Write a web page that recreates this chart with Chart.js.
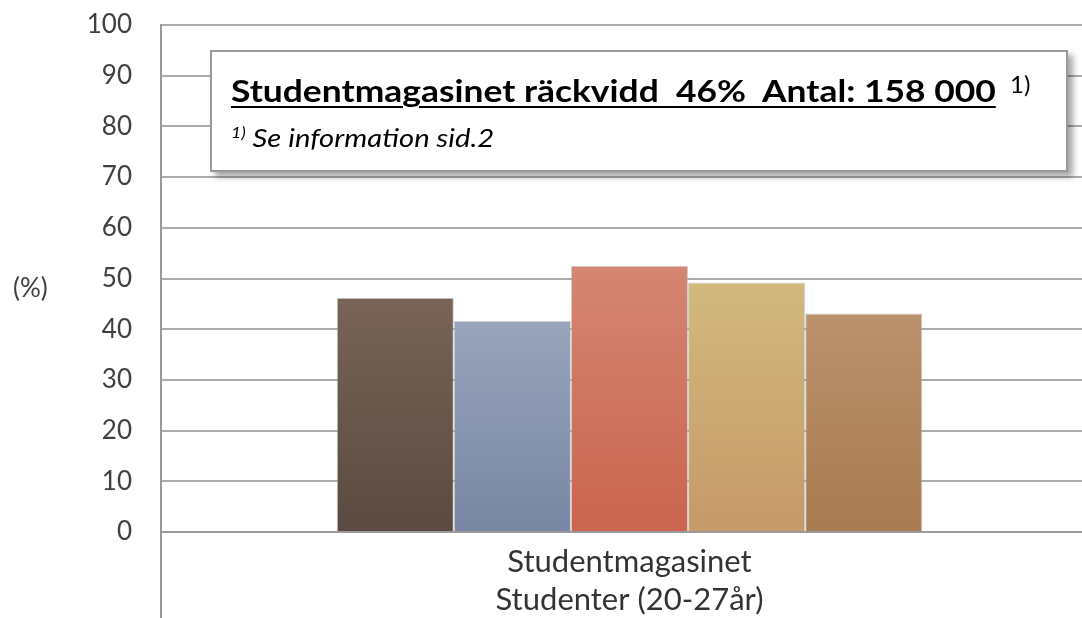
<!DOCTYPE html>
<html>
<head>
<meta charset="utf-8">
<script src="https://cdn.jsdelivr.net/npm/chart.js@4/dist/chart.umd.min.js"></script>
<style>
  html, body { margin:0; padding:0; background:#fff; overflow:hidden; width:1082px; height:618px; }
  #wrap { position:absolute; left:0; top:0; width:1098px; height:618px; }
  #box { position:absolute; left:210px; top:50px; width:854px; height:118px; background:#fff;
         border:2px solid #9a9a9a; box-shadow:5px 5px 6px rgba(0,0,0,0.35); font-family:Lato, sans-serif; color:#000; }
  #l1 { position:absolute; left:19px; top:23px; white-space:pre; font-size:30px; font-weight:bold; line-height:1;
        transform:scaleX(1.18); transform-origin:0 0; }
  #l1 .t { text-decoration:underline; text-decoration-thickness:2px; text-underline-offset:4px; }
  #s1 { position:absolute; left:798px; top:20px; font-size:24px; line-height:1; }
  #l2 { position:absolute; left:19px; top:73px; white-space:pre; font-size:25px; font-style:italic; line-height:1;
        transform:scaleX(1.17); transform-origin:0 0; }
  #l2 sup { font-size:15px; vertical-align:top; position:relative; top:0px; }
</style>
</head>
<body>
<div id="wrap"><canvas id="c"></canvas></div>
<div id="box">
  <div id="l1"><span class="t">Studentmagasinet räckvidd  46%  Antal: 158 000</span></div>
  <div id="s1">1)</div>
  <div id="l2"><sup>1)</sup> Se information sid.2</div>
</div>
<script>
// ---- data ----
const categories = [['Studentmagasinet', 'Studenter (20-27år)']];
const seriesNames = ['Serie 1', 'Serie 2', 'Serie 3', 'Serie 4', 'Serie 5'];
const serie1 = [46.2];
const serie2 = [41.6];
const serie3 = [52.5];
const serie4 = [49.2];
const serie5 = [43.1];
const yMin = 0, yMax = 100, yStep = 10;
const axisTitle = '(%)';

// ---- styles ----
const gradTop =    ['#786457', '#98a4bb', '#d48673', '#d2b97d', '#ba926d'];
const gradBottom = ['#5b4a41', '#7886a3', '#ca644e', '#c69968', '#a87a50'];

function barGradient(i) {
  return function(ctx) {
    const chart = ctx.chart;
    const area = chart.chartArea;
    if (!area || ctx.raw === undefined) return gradTop[i];
    const y = chart.scales.y;
    const yTop = y.getPixelForValue(ctx.raw);
    const yBot = y.getPixelForValue(0);
    const g = chart.ctx.createLinearGradient(0, yTop, 0, yBot);
    g.addColorStop(0, gradTop[i]);
    g.addColorStop(1, gradBottom[i]);
    return g;
  };
}

const allSeries = [serie1, serie2, serie3, serie4, serie5];
const datasets = allSeries.map((d, i) => ({
  label: seriesNames[i],
  data: d,
  backgroundColor: barGradient(i),
  borderColor: 'rgba(170,170,170,0.55)',
  borderWidth: 1,
  categoryPercentage: 0.625,
  barPercentage: 1.0
}));

const extras = {
  id: 'extras',
  afterDraw(chart) {
    const ctx = chart.ctx;
    const a = chart.chartArea;
    ctx.save();
    ctx.strokeStyle = '#9a9a9a';
    ctx.lineWidth = 2;
    ctx.beginPath();
    ctx.moveTo(a.left, a.bottom);
    ctx.lineTo(a.left, chart.height);
    ctx.stroke();
    ctx.fillStyle = '#404040';
    ctx.font = '26px Lato, sans-serif';
    ctx.textAlign = 'left';
    ctx.textBaseline = 'middle';
    ctx.fillText(axisTitle, 13, (a.top + a.bottom) / 2 + 10);
    ctx.restore();
  }
};

new Chart(document.getElementById('c'), {
  type: 'bar',
  data: { labels: categories, datasets },
  options: {
    responsive: true,
    maintainAspectRatio: false,
    animation: false,
    layout: { padding: { top: 25, right: 0, bottom: 0, left: 0 } },
    plugins: { legend: { display: false }, tooltip: { enabled: false }, title: { display: false } },
    scales: {
      x: {
        grid: { display: false },
        border: { display: true, color: '#9a9a9a', width: 2 },
        ticks: { color: '#333', font: { family: 'Lato', size: 31, lineHeight: 1.23 }, padding: 3, maxRotation: 0 },
        afterFit(s) { s.height = 86; }
      },
      y: {
        min: yMin, max: yMax,
        grid: { color: '#ababab', lineWidth: 2, drawTicks: false },
        border: { display: true, color: '#9a9a9a', width: 2 },
        ticks: { stepSize: yStep, color: '#404040', font: { family: 'Lato', size: 26 }, padding: 29 },
        afterFit(s) { s.width = 161; s.paddingTop = 0; s.paddingBottom = 0; }
      }
    }
  },
  plugins: [extras]
});
</script>
</body>
</html>
